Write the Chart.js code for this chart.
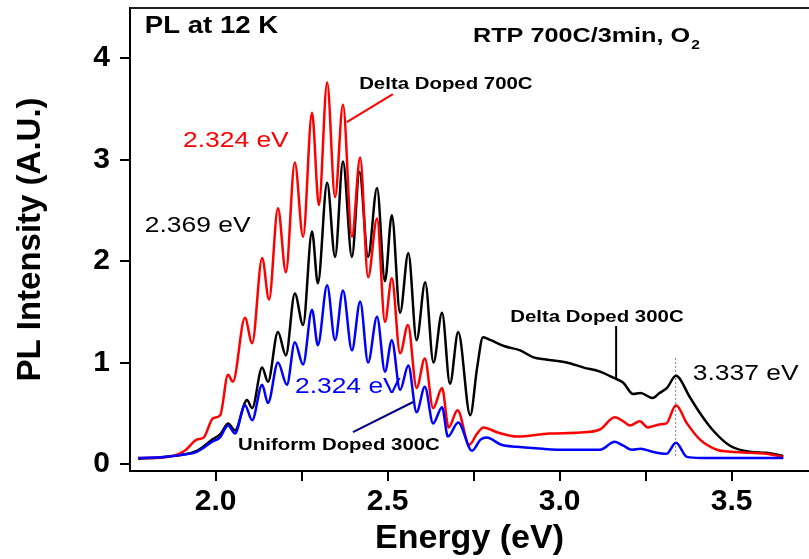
<!DOCTYPE html>
<html>
<head>
<meta charset="utf-8">
<script src="https://cdn.jsdelivr.net/npm/chart.js@4/dist/chart.umd.min.js"></script>
<style>
  body { margin: 0; background: #fff; }
  canvas { display: block; }
</style>
</head>
<body>
<canvas id="plChart" width="809" height="559"></canvas>
<script>
const FONT = '"Liberation Sans", Arial, sans-serif';

// Delta doped 700C (red)
const redEnergy = [1.775, 1.82, 1.876, 1.91, 1.945, 1.965, 1.992, 2.013, 2.036, 2.050, 2.085, 2.106, 2.135, 2.155, 2.181, 2.204, 2.230, 2.254, 2.280, 2.300, 2.324, 2.347, 2.370, 2.396, 2.420, 2.443, 2.469, 2.492, 2.512, 2.536, 2.559, 2.584, 2.608, 2.632, 2.658, 2.677, 2.703, 2.737, 2.760, 2.778, 2.82, 2.875, 2.97, 3.06, 3.117, 3.16, 3.185, 3.204, 3.233, 3.256, 3.29, 3.31, 3.338, 3.37, 3.408, 3.457, 3.50, 3.553, 3.60, 3.65];
const redIntensity = [0.06, 0.06, 0.08, 0.13, 0.24, 0.26, 0.45, 0.48, 0.88, 0.81, 1.44, 1.19, 2.03, 1.62, 2.52, 1.89, 2.97, 2.24, 3.46, 2.55, 3.76, 2.63, 3.54, 2.24, 3.02, 1.84, 2.42, 1.40, 1.83, 1.09, 1.37, 0.75, 1.04, 0.55, 0.75, 0.36, 0.53, 0.19, 0.30, 0.36, 0.31, 0.27, 0.30, 0.31, 0.34, 0.46, 0.42, 0.38, 0.42, 0.36, 0.39, 0.40, 0.58, 0.40, 0.24, 0.14, 0.12, 0.11, 0.10, 0.07];

// Delta doped 300C (black)
const blackEnergy = [1.775, 1.85, 1.945, 1.99, 2.015, 2.036, 2.056, 2.091, 2.106, 2.135, 2.152, 2.181, 2.204, 2.230, 2.254, 2.280, 2.297, 2.324, 2.347, 2.370, 2.396, 2.418, 2.443, 2.469, 2.492, 2.512, 2.536, 2.560, 2.584, 2.609, 2.633, 2.658, 2.681, 2.705, 2.740, 2.760, 2.777, 2.80, 2.84, 2.885, 2.924, 2.96, 3.02, 3.07, 3.117, 3.156, 3.185, 3.213, 3.235, 3.27, 3.29, 3.312, 3.338, 3.378, 3.408, 3.446, 3.495, 3.553, 3.60, 3.65];
const blackIntensity = [0.05, 0.07, 0.13, 0.24, 0.30, 0.40, 0.33, 0.63, 0.55, 0.95, 0.81, 1.30, 1.07, 1.68, 1.37, 2.29, 1.78, 2.77, 2.04, 2.98, 2.04, 2.88, 2.04, 2.72, 1.80, 2.45, 1.49, 2.08, 1.22, 1.79, 1.00, 1.49, 0.79, 1.30, 0.48, 0.95, 1.25, 1.22, 1.16, 1.12, 1.05, 1.03, 1.00, 0.95, 0.91, 0.85, 0.80, 0.69, 0.70, 0.65, 0.70, 0.75, 0.87, 0.66, 0.50, 0.33, 0.18, 0.12, 0.11, 0.08];

// Uniform doped 300C (blue)
const blueEnergy = [1.775, 1.85, 1.90, 1.945, 1.99, 2.012, 2.036, 2.056, 2.085, 2.106, 2.135, 2.152, 2.181, 2.207, 2.230, 2.254, 2.280, 2.297, 2.324, 2.347, 2.370, 2.396, 2.420, 2.443, 2.469, 2.492, 2.512, 2.536, 2.560, 2.584, 2.608, 2.632, 2.658, 2.675, 2.705, 2.745, 2.770, 2.788, 2.83, 2.875, 2.95, 3.02, 3.117, 3.16, 3.185, 3.21, 3.235, 3.27, 3.31, 3.338, 3.37, 3.41, 3.50, 3.65];
const blueIntensity = [0.06, 0.07, 0.09, 0.12, 0.22, 0.26, 0.38, 0.30, 0.58, 0.43, 0.78, 0.60, 1.00, 0.78, 1.20, 0.98, 1.52, 1.17, 1.76, 1.22, 1.71, 1.12, 1.60, 1.00, 1.45, 0.91, 1.22, 0.73, 0.97, 0.51, 0.76, 0.40, 0.56, 0.27, 0.41, 0.13, 0.24, 0.26, 0.19, 0.17, 0.15, 0.14, 0.14, 0.22, 0.18, 0.14, 0.15, 0.12, 0.10, 0.21, 0.07, 0.06, 0.06, 0.06];

const xTickValues = [2.0, 2.25, 2.5, 2.75, 3.0, 3.25, 3.5];
const xMajorTicks = [2.0, 2.5, 3.0, 3.5];
const yTickValues = [0, 1, 2, 3, 4];

// text labels placed in data coordinates
const notes = [
  { text: 'PL at 12 K', x: 1.794, y: 4.246, size: 23, bold: true, color: '#000' },
  { text: 'RTP 700C/3min, O', sub: '2', x: 2.748, y: 4.158, size: 21, bold: true, color: '#000' },
  { text: 'Delta Doped 700C', x: 2.417, y: 3.695, size: 17, bold: true, color: '#000' },
  { text: '2.324 eV', x: 1.905, y: 3.123, size: 22, bold: false, color: '#ff0000' },
  { text: '2.369 eV', x: 1.794, y: 2.286, size: 22, bold: false, color: '#000' },
  { text: '2.324 eV', x: 2.2305, y: 0.70, size: 22, bold: false, color: '#0000ff' },
  { text: 'Uniform Doped 300C', x: 2.065, y: 0.138, size: 17, bold: true, color: '#000' },
  { text: 'Delta Doped 300C', x: 2.856, y: 1.399, size: 17, bold: true, color: '#000' },
  { text: '3.337 eV', x: 3.387, y: 0.828, size: 22, bold: false, color: '#000' }
];

const leaders = [
  { x1: 2.515, y1: 3.645, x2: 2.381, y2: 3.369, color: '#ff0000', width: 2 },
  { x1: 2.399, y1: 0.315, x2: 2.574, y2: 0.611, color: '#000080', width: 2 },
  { x1: 3.164, y1: 1.36, x2: 3.164, y2: 0.828, color: '#000', width: 2 },
  { x1: 3.337, y1: 1.04, x2: 3.337, y2: 0.06, color: '#000', width: 1, dash: [1, 3] }
];

function toPoints(xs, ys) {
  return xs.map((x, i) => ({ x: x, y: ys[i] }));
}

const annotatePlugin = {
  id: 'annotate',
  afterDatasetsDraw(chart) {
    const ctx = chart.ctx;
    const xs = chart.scales.x;
    const ys = chart.scales.y;
    const area = chart.chartArea;

    // top frame line
    ctx.save();
    ctx.strokeStyle = '#222';
    ctx.lineWidth = 2;
    ctx.beginPath();
    ctx.moveTo(area.left, area.top);
    ctx.lineTo(area.right, area.top);
    ctx.stroke();
    ctx.restore();

    leaders.forEach(l => {
      ctx.save();
      ctx.strokeStyle = l.color;
      ctx.lineWidth = l.width;
      if (l.dash) ctx.setLineDash(l.dash);
      ctx.beginPath();
      ctx.moveTo(xs.getPixelForValue(l.x1), ys.getPixelForValue(l.y1));
      ctx.lineTo(xs.getPixelForValue(l.x2), ys.getPixelForValue(l.y2));
      ctx.stroke();
      ctx.restore();
    });

    notes.forEach(n => {
      ctx.save();
      ctx.translate(xs.getPixelForValue(n.x), ys.getPixelForValue(n.y));
      ctx.scale(1.2, 1);
      ctx.fillStyle = n.color;
      ctx.textBaseline = 'alphabetic';
      ctx.textAlign = 'left';
      ctx.font = (n.bold ? 'bold ' : '') + n.size + 'px ' + FONT;
      ctx.fillText(n.text, 0, 0);
      if (n.sub) {
        const w = ctx.measureText(n.text).width;
        ctx.font = (n.bold ? 'bold ' : '') + Math.round(n.size * 0.62) + 'px ' + FONT;
        ctx.fillText(n.sub, w + 1, 7);
      }
      ctx.restore();
    });
  }
};

const ctx = document.getElementById('plChart').getContext('2d');
const plChart = new Chart(ctx, {
  type: 'line',
  data: {
    datasets: [
      {
        label: 'Uniform Doped 300C',
        data: toPoints(blueEnergy, blueIntensity),
        borderColor: '#0000ff',
        borderWidth: 2.5,
        pointRadius: 0,
        cubicInterpolationMode: 'monotone'
      },
      {
        label: 'Delta Doped 700C',
        data: toPoints(redEnergy, redIntensity),
        borderColor: '#ff0000',
        borderWidth: 2.5,
        pointRadius: 0,
        cubicInterpolationMode: 'monotone'
      },
      {
        label: 'Delta Doped 300C',
        data: toPoints(blackEnergy, blackIntensity),
        borderColor: '#000000',
        borderWidth: 2.5,
        pointRadius: 0,
        cubicInterpolationMode: 'monotone'
      }
    ]
  },
  options: {
    responsive: false,
    animation: false,
    layout: { padding: { top: 8, right: 0, left: 0, bottom: 0 } },
    plugins: {
      legend: { display: false },
      tooltip: { enabled: false }
    },
    scales: {
      x: {
        type: 'linear',
        min: 1.7509,
        max: 3.7247,
        afterBuildTicks: scale => { scale.ticks = xTickValues.map(v => ({ value: v })); },
        afterFit: scale => {
          scale.height = 88;
          scale.paddingLeft = 0;
          scale.paddingRight = 0;
        },
        border: { display: true, color: '#000', width: 2 },
        grid: { drawOnChartArea: false, drawTicks: true, tickLength: 10, color: '#000', lineWidth: 2 },
        ticks: {
          color: '#000',
          padding: 3,
          maxRotation: 0,
          autoSkip: false,
          font: { family: FONT, size: 30, weight: 'bold' },
          callback: v => xMajorTicks.includes(v) ? v.toFixed(1) : ''
        },
        title: {
          display: true,
          text: 'Energy (eV)',
          color: '#000',
          font: { family: FONT, size: 34, weight: 'bold', lineHeight: 1 },
          padding: { top: 0, bottom: 3 }
        }
      },
      y: {
        type: 'linear',
        min: -0.069,
        max: 4.493,
        afterBuildTicks: scale => { scale.ticks = yTickValues.map(v => ({ value: v })); },
        afterFit: scale => {
          scale.width = 130;
          scale.paddingTop = 0;
          scale.paddingBottom = 0;
        },
        border: { display: true, color: '#000', width: 2 },
        grid: { drawOnChartArea: false, drawTicks: true, tickLength: 10, color: '#000', lineWidth: 2 },
        ticks: {
          color: '#000',
          padding: 10,
          font: { family: FONT, size: 30, weight: 'bold' },
          callback: v => String(v)
        },
        title: {
          display: true,
          text: 'PL Intensity (A.U.)',
          color: '#000',
          font: { family: FONT, size: 33, weight: 'bold', lineHeight: 1 },
          padding: { top: 14, bottom: 0 }
        }
      }
    }
  },
  plugins: [annotatePlugin]
});
</script>
</body>
</html>
